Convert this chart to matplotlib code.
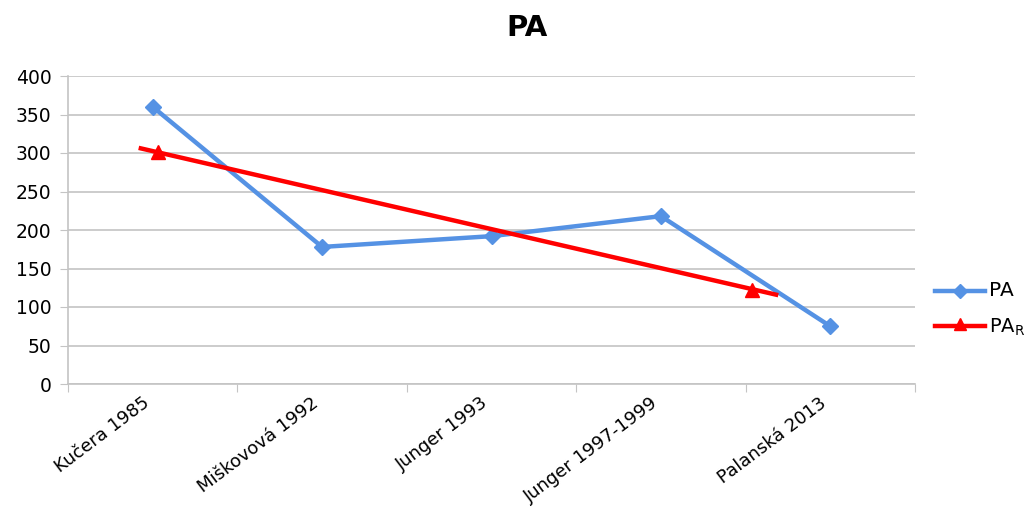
import matplotlib.pyplot as plt
import numpy as np

# Data
categories = ["Kučera 1985", "Miškovová 1992", "Junger 1993", "Junger 1997-1999", "Palanská 2013"]
pa_values = [360, 178, 192, 218, 75]

# PA_R regression line: endpoints and its two marker points (in category units)
pa_r_line_x = [-0.07, 3.68]
pa_r_line_y = [306, 116]
pa_r_mark_x = [0.03, 3.54]
pa_r_mark_y = [301, 122]

blue = "#5592E4"
red = "#FF0000"
grey = "#C4C4C4"

fig = plt.figure(figsize=(10.27, 5.07), dpi=100)
ax = fig.add_axes([68 / 1027, 1 - 384 / 507, (915 - 68) / 1027, (384 - 76) / 507])

x = np.arange(len(categories))
ax.plot(x, pa_values, color=blue, lw=3.2, marker="D", ms=8, zorder=3)
ax.plot(pa_r_line_x, pa_r_line_y, color=red, lw=3.2, zorder=4)
ax.plot(pa_r_mark_x, pa_r_mark_y, ls="none", color=red, marker="^", ms=10, zorder=4)

ax.set_xlim(-0.5, len(categories) - 0.5)
ax.set_ylim(0, 400)
ax.set_yticks(np.arange(0, 401, 50))
ax.yaxis.grid(True, color=grey, lw=1.2)
ax.set_axisbelow(True)

# category boundary ticks, labels at centres
ax.set_xticks(np.arange(-0.5, len(categories)), minor=False)
ax.set_xticklabels([])
ax.set_xticks(x, minor=True)
ax.set_xticklabels(categories, minor=True, rotation=37, ha="right", fontsize=13)
ax.tick_params(axis="x", which="major", length=6, color=grey)
ax.tick_params(axis="x", which="minor", length=0, pad=7)
ax.tick_params(axis="y", length=6, color=grey, labelsize=13.5, pad=6)

for s in ["top", "right"]:
    ax.spines[s].set_visible(False)
for s in ["left", "bottom"]:
    ax.spines[s].set_color(grey)
    ax.spines[s].set_linewidth(1.2)

fig.text(527 / 1027, 1 - 28 / 507, "PA", ha="center", va="center",
         fontsize=21, fontweight="bold")

# legend drawn by hand so the second label sits near the edge like the original
leg = fig.add_axes([0, 0, 1, 1], facecolor="none")
leg.set_xlim(0, 1027)
leg.set_ylim(507, 0)
leg.axis("off")
leg.plot([935, 985], [291, 291], color=blue, lw=3.2)
leg.plot([960], [291], color=blue, marker="D", ms=7)
leg.text(989, 291, "PA", va="center", ha="left", fontsize=14.5)
leg.plot([935, 985], [326, 326], color=red, lw=3.2)
leg.plot([960], [324], color=red, marker="^", ms=9)
leg.text(989, 327, "PA$_\\mathregular{R}$", va="center", ha="left", fontsize=14)

fig.savefig("out.png", dpi=100)
